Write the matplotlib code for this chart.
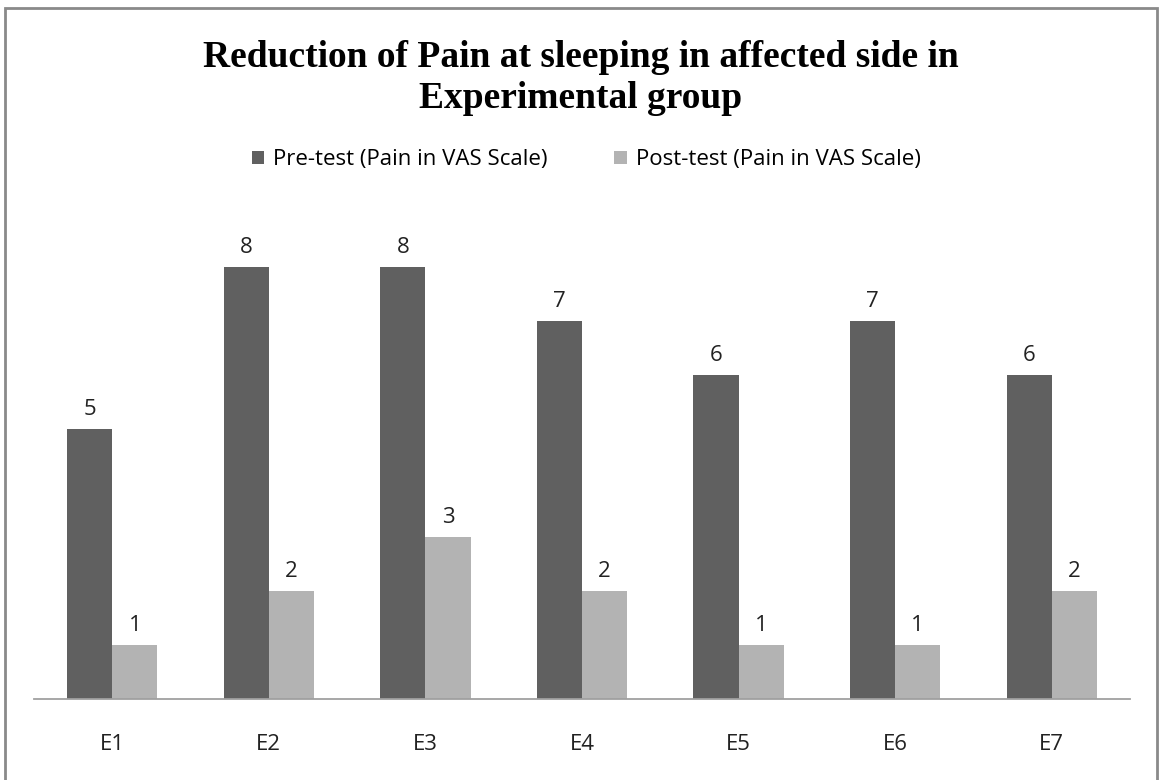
import numpy as np
import matplotlib.pyplot as plt
from matplotlib.patches import Rectangle

# data
patients = ['E1', 'E2', 'E3', 'E4', 'E5', 'E6', 'E7']
pre_test = [5, 8, 8, 7, 6, 7, 6]
post_test = [1, 2, 3, 2, 1, 1, 2]
series_names = ['Pre-test (Pain in VAS Scale)', 'Post-test (Pain in VAS Scale)']

W, H = 1161, 780
fig = plt.figure(figsize=(W / 100, H / 100), dpi=100)
ax = fig.add_axes([34 / W, 1 - 699 / H, (1130 - 34) / W, (699 - 213) / H])

x = np.arange(len(patients))
bw = 0.288
b1 = ax.bar(x - bw / 2, pre_test, bw, color='#606060', label=series_names[0])
b2 = ax.bar(x + bw / 2, post_test, bw, color='#b3b3b3', label=series_names[1])

lab_font = dict(family=['Open Sans', 'DejaVu Sans'], fontsize=16, color='#222222')
for bars in (b1, b2):
    for r in bars:
        ax.annotate(str(int(r.get_height())), (r.get_x() + r.get_width() / 2, r.get_height()),
                    xytext=(0, 9), textcoords='offset pixels', ha='center', va='bottom', **lab_font)

ax.set_xlim(-0.5, len(patients) - 0.5)
ax.set_ylim(0, 9)
ax.set_yticks([])
ax.set_xticks(x)
ax.set_xticklabels(patients, **lab_font)
ax.tick_params(axis='x', length=0, pad=25)
for s in ['left', 'right', 'top']:
    ax.spines[s].set_visible(False)
ax.spines['bottom'].set_color('#a0a0a0')
ax.spines['bottom'].set_linewidth(1.3)

fig.text(0.5, 1 - 78 / H, 'Reduction of Pain at sleeping in affected side in\nExperimental group',
         ha='center', va='center', family='Liberation Serif', fontweight='bold', fontsize=27,
         linespacing=1.2)

fig.legend(loc='center', bbox_to_anchor=(0.505, 1 - 160 / H), ncol=2, frameon=False,
           prop={'family': 'Open Sans', 'size': 16}, handlelength=0.55, handleheight=0.55,
           handletextpad=0.4, columnspacing=3.0)

fig.patches.append(Rectangle((5 / W, -0.01), (1157 - 5) / W, 1 - 8 / H + 0.01, transform=fig.transFigure,
                             fill=False, edgecolor='#8a8a8a', linewidth=2))

fig.savefig('out.png', dpi=100)
